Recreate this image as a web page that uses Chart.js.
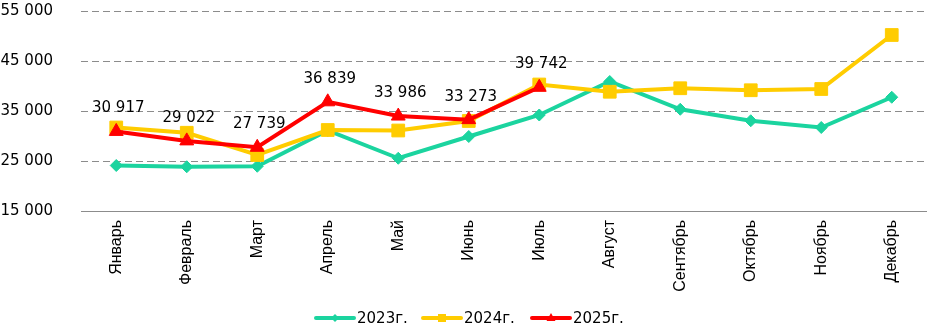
<!DOCTYPE html>
<html>
<head>
<meta charset="utf-8">
<script src="https://cdn.jsdelivr.net/npm/chart.js@4/dist/chart.umd.min.js"></script>
<style>
  html, body { margin: 0; padding: 0; background: #fff; }
  #wrap { width: 927px; height: 328px; position: relative; }
</style>
</head>
<body>
<div id="wrap"><canvas id="c" width="927" height="328"></canvas></div>
<script>
const months = ['Январь', 'Февраль', 'Март', 'Апрель', 'Май', 'Июнь', 'Июль',
                'Август', 'Сентябрь', 'Октябрь', 'Ноябрь', 'Декабрь'];
const seriesNames = ['2023г.', '2024г.', '2025г.'];
const values2023 = [24100, 23850, 23950, 31100, 25550, 29900, 34200, 40900, 35350, 33050, 31700, 37750];
const values2024 = [31700, 30650, 26200, 31200, 31100, 33000, 40300, 38850, 39550, 39150, 39400, 50200];
const values2025 = [30917, 29022, 27739, 36839, 33986, 33273, 39742];
const yTicks = [15000, 25000, 35000, 45000, 55000];

const FONT = '"DejaVu Sans", Verdana, sans-serif';
const CAT_FONT = '"Liberation Sans", Arial, sans-serif';
const colors = ['#1BD49F', '#FFCC00', '#FF0000'];
const styles = ['rectRot', 'rect', 'triangle'];

const fmt = v => String(v).replace(/\B(?=(\d{3})+(?!\d))/g, ' ');

// value labels above the 2025 series
const valueLabels = {
  id: 'valueLabels',
  afterDatasetsDraw(chart) {
    const ctx = chart.ctx;
    const meta = chart.getDatasetMeta(2);
    ctx.save();
    ctx.font = '15px ' + FONT;
    ctx.fillStyle = '#000';
    ctx.textAlign = 'center';
    ctx.textBaseline = 'middle';
    meta.data.forEach((pt, i) => {
      ctx.fillText(fmt(values2025[i]), pt.x + 2, pt.y - 23);
    });
    ctx.restore();
  }
};

// legend: a line sample with its marker, followed by the series name
const lineLegend = {
  id: 'lineLegend',
  afterDraw(chart) {
    const ctx = chart.ctx;
    const y = 318;
    const starts = [316, 423, 532];
    ctx.save();
    ctx.font = '15px ' + FONT;
    ctx.textBaseline = 'middle';
    ctx.textAlign = 'left';
    seriesNames.forEach((name, i) => {
      const x0 = starts[i], x1 = x0 + 38, xm = (x0 + x1) / 2;
      ctx.strokeStyle = colors[i];
      ctx.lineWidth = 4;
      ctx.lineCap = 'round';
      ctx.beginPath(); ctx.moveTo(x0, y); ctx.lineTo(x1, y); ctx.stroke();
      ctx.fillStyle = colors[i];
      ctx.beginPath();
      if (i === 0) {
        ctx.moveTo(xm, y - 4); ctx.lineTo(xm + 4, y); ctx.lineTo(xm, y + 4); ctx.lineTo(xm - 4, y);
      } else if (i === 1) {
        ctx.rect(xm - 4, y - 4, 8, 8);
      } else {
        ctx.moveTo(xm, y - 5); ctx.lineTo(xm + 4.5, y + 3); ctx.lineTo(xm - 4.5, y + 3);
      }
      ctx.closePath(); ctx.fill();
      ctx.fillStyle = '#000';
      ctx.fillText(name, x1 + 3, y + 1);
    });
    ctx.restore();
  }
};

// lower "order" is painted on top: 2025 over 2024 over 2023
const makeSet = (i, data, radius, order) => ({
  label: seriesNames[i],
  data: data,
  order: order,
  borderColor: colors[i],
  backgroundColor: colors[i],
  borderWidth: 4,
  pointStyle: styles[i],
  pointRadius: radius,
  pointHoverRadius: radius,
  pointBorderWidth: 1,
  pointBorderColor: colors[i],
  pointBackgroundColor: colors[i],
  tension: 0,
  fill: false,
  clip: false
});

new Chart(document.getElementById('c'), {
  type: 'line',
  data: {
    labels: months,
    datasets: [
      makeSet(0, values2023, 6, 2),
      makeSet(1, values2024, 9, 1),
      makeSet(2, values2025, 8, 0)
    ]
  },
  options: {
    responsive: false,
    animation: false,
    layout: { autoPadding: false, padding: { top: 11, left: 0, right: 0, bottom: 0 } },
    plugins: { legend: { display: false }, tooltip: { enabled: false } },
    scales: {
      x: {
        offset: true,
        grid: { display: false, drawTicks: false },
        border: { display: true, color: '#8C8C8C', width: 1 },
        ticks: {
          color: '#000',
          font: { family: CAT_FONT, size: 16 },
          padding: 9,
          maxRotation: 90,
          minRotation: 90,
          autoSkip: false
        },
        afterFit(s) { s.height = 117; s.paddingLeft = 0; s.paddingRight = 0; }
      },
      y: {
        min: 15000,
        max: 55000,
        afterBuildTicks(s) { s.ticks = yTicks.map(v => ({ value: v })); },
        grid: { color: '#8C8C8C', drawTicks: false, lineWidth: 1 },
        border: { display: false, dash: [7, 4] },
        ticks: {
          color: '#000',
          font: { family: FONT, size: 15 },
          padding: 28,
          callback: v => fmt(v)
        },
        afterFit(s) { s.width = 81; s.paddingTop = 0; s.paddingBottom = 0; }
      }
    }
  },
  plugins: [valueLabels, lineLegend]
});
</script>
</body>
</html>
